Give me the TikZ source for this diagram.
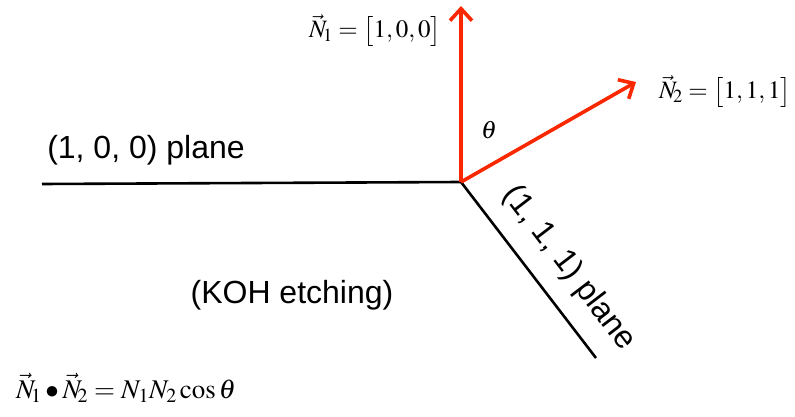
\documentclass[tikz,border=0pt]{standalone}
\usepackage{mathptmx}
\usepackage{fontspec}
\setmainfont{Liberation Serif}
\newfontfamily\arialfont{Liberation Sans}
\usetikzlibrary{arrows.meta}
\definecolor{vred}{RGB}{250,40,0}
\tikzset{
  plane/.style={line width=2.6pt, black},
  vec/.style={line width=3.6pt, vred, -{Straight Barb[length=12pt,width=22pt,line width=3.6pt]}},
  sanslbl/.style={font=\arialfont\fontsize{32}{38}\selectfont, inner sep=0pt},
  mathlbl/.style={font=\fontsize{25}{30}\selectfont, inner sep=0pt, anchor=base}
}
\begin{document}
\begin{tikzpicture}[x=1pt,y=-1pt]
\useasboundingbox (0,0) rectangle (795,417);
\coordinate (v) at (461,182);
\coordinate (a) at (42,184);
\coordinate (b) at (596,358);
\coordinate (n1) at (461,6);
\coordinate (n2) at (636,82);
\draw[plane] (a) -- (v);
\draw[plane] (v) -- (b);
\draw[vec] (v) -- (n1);
\draw[vec] (v) -- (n2);
\node[sanslbl] (l100) at (146,150) {(1, 0, 0) plane};
\node[sanslbl] (koh) at (292,295) {(KOH etching)};
\node[sanslbl, rotate=-52.6] (l111) at (569,268) {(1, 1, 1) plane};
\node[mathlbl] (n1l) at (375,38) {$\vec{N}_{\!1}=\bigl[1,0,0\bigr]$};
\node[mathlbl] (n2l) at (725,99) {$\vec{N}_{\!2}=\bigl[1,1,1\bigr]$};
\node[mathlbl] (th) at (489,139) {$\theta$};
\node[mathlbl, font=\fontsize{27}{32}\selectfont] (eq) at (126,398) {$\vec{N}_{\!1}\bullet\vec{N}_{\!2}=N_{1}N_{2}\cos\theta$};
\end{tikzpicture}
\end{document}
